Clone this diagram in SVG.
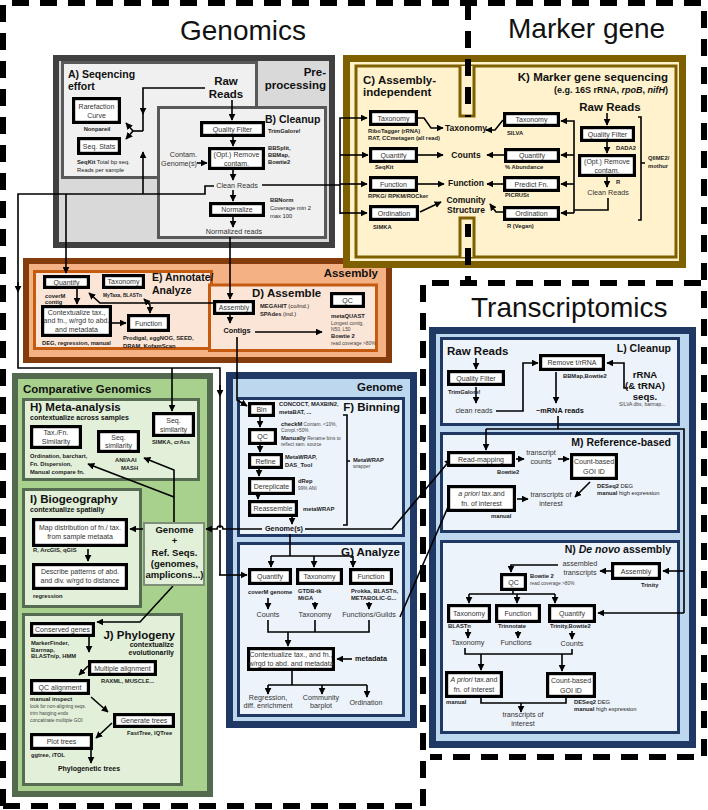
<svg xmlns="http://www.w3.org/2000/svg" width="708" height="810" viewBox="0 0 708 810">
<defs>
<marker id="ah" viewBox="0 0 10 10" refX="9" refY="5" markerWidth="7" markerHeight="7" markerUnits="userSpaceOnUse" orient="auto-start-reverse"><path d="M0,0 L10,5 L0,10 z" fill="#000"/></marker>
<style>
text{font-family:"Liberation Sans",Arial,sans-serif}
.ti{font-size:28px;fill:#111}
.hd{font-size:11.5px;font-weight:bold;fill:#111}
.hs{font-size:10.5px;font-weight:bold;fill:#111}
.bt{font-size:7px;fill:#333;text-anchor:middle}
.tl{font-size:5.8px;font-weight:bold;fill:#222}
.tn{font-size:4.8px;fill:#444}
.lb{font-size:7.2px;fill:#333;text-anchor:middle}
.lbb{font-size:7.3px;font-weight:bold;fill:#111;text-anchor:middle}
.lbc{font-size:8.5px;font-weight:bold;fill:#111;text-anchor:middle}
.sub{font-size:7px;font-weight:bold;fill:#111}
.nd{fill:#fff;stroke:#000;stroke-width:3.2}
.dash{fill:none;stroke:#000;stroke-width:6;stroke-dasharray:17 11}
.cn path{fill:none;stroke:#000;stroke-width:1.6}
.ar{marker-end:url(#ah)}
.pg{fill:#f0f0f0;stroke:#595959;stroke-width:3}
.po{fill:#fbe5d6;stroke:#c55a11;stroke-width:3}
.py{fill:#fff2cc;stroke:#7f6000;stroke-width:3}
.pb{fill:#edf3fb;stroke:#1f3864;stroke-width:3}
.pn{fill:#e2f0d9;stroke:#556b52;stroke-width:3}
</style>
</defs>
<rect width="708" height="810" fill="#fff"/>

<!-- titles -->
<text class="ti" x="180" y="40">Genomics</text>
<text class="ti" x="508" y="38">Marker gene</text>
<text class="ti" x="471" y="317">Transcriptomics</text>

<!-- panels -->
<g id="preprocessing">
<rect x="56" y="58" width="276" height="187" fill="#d9d9d9" stroke="#404040" stroke-width="6"/>
<text class="hd" x="326" y="76" text-anchor="end">Pre-</text>
<text class="hd" x="326" y="89" text-anchor="end">processing</text>
<rect class="pg" x="62.5" y="62.5" width="194" height="115"/>
<rect class="pg" x="158.5" y="107.5" width="167" height="130"/>
</g>
<g id="assembly-panel">
<rect x="26" y="261" width="363" height="99" fill="#f4b183" stroke="#843c0c" stroke-width="6"/>
<rect class="po" x="34.5" y="271.5" width="177" height="77"/>
<rect class="po" x="209.5" y="285" width="167" height="65.5"/>
<text class="hd" x="378" y="277" text-anchor="end">Assembly</text>
</g>
<g id="marker-panel">
<rect x="346.5" y="58.5" width="336" height="206" fill="#fff2cc" stroke="#7f6000" stroke-width="7"/>
<rect class="py" x="356" y="66" width="320" height="191"/>
<path d="M460,66 V116 H474 V66" fill="#fff2cc" stroke="#7f6000" stroke-width="3"/>
<path d="M460,257 V218 H474 V257" fill="#fff2cc" stroke="#7f6000" stroke-width="3"/>
</g>
<g id="genome-panel">
<rect x="229.5" y="375.5" width="184" height="349" fill="#bdd7ee" stroke="#1f3864" stroke-width="7"/>
<rect class="pb" x="238.5" y="398.5" width="165" height="137"/>
<rect class="pb" x="238.5" y="543.5" width="165" height="172"/>
<text class="hd" x="403" y="391" text-anchor="end">Genome</text>
</g>
<g id="transcriptomics-panel">
<rect x="432.5" y="330.5" width="260" height="414" fill="#bdd7ee" stroke="#1f3864" stroke-width="7"/>
<rect class="pb" x="441.5" y="338.5" width="237" height="86"/>
<rect class="pb" x="441.5" y="433.5" width="237" height="98"/>
<rect class="pb" x="441.5" y="541.5" width="237" height="191"/>
</g>
<g id="comparative-panel">
<rect x="15" y="376" width="195" height="418" fill="#a9d18e" stroke="#536a4f" stroke-width="6"/>
<text class="hd" x="23" y="393">Comparative Genomics</text>
<rect class="pn" x="23.5" y="399.5" width="175" height="80"/>
<rect class="pn" x="23.5" y="489.5" width="117" height="117"/>
<rect class="pn" x="23.5" y="614.5" width="158" height="170"/>
</g>

<!-- dashed region borders -->
<g id="regions">
<path class="dash" d="M3,806 V3 H704 V757 H430"/>
<path class="dash" d="M3,806 H423 V283 H704"/>
<path class="dash" d="M468,3 V117"/>
<path class="dash" d="M468,224 V283" stroke-dashoffset="4"/>
</g>

<!-- connectors -->
<g id="connectors" class="cn">
<path class="ar" d="M205,88 H143 V114"/>
<path d="M143,113 V131"/>
<path class="ar" d="M143,194 V152"/>
<path d="M143,131 H133"/>
<path class="ar" d="M133,131 L126,123"/>
<path class="ar" d="M133,131 L126,139"/>
<path class="ar" d="M232,100 V120"/>
<path class="ar" d="M233,137 V146"/>
<path class="ar" d="M197,163 H207"/>
<path class="ar" d="M233,170 V180"/>
<path class="ar" d="M233,190 V201"/>
<path class="ar" d="M233,217 V227"/>
<path class="ar" d="M230,237 V299"/>
<path d="M262,185 H340"/>
<path class="ar" d="M340,214 V118 H367"/>
<path class="ar" d="M340,155 H368"/>
<path class="ar" d="M340,184 H367"/>
<path class="ar" d="M340,213 H367"/>
<path d="M214,186 H205 V194 H18 V368 H220 V528"/>
<path d="M220,530 V575"/>
<path class="ar" d="M219,575 H247"/>
<path class="ar" d="M18,282 V292"/>
<path class="ar" d="M220,385 V396"/>
<path class="ar" d="M66,194 V273"/>
<path class="ar" d="M172,368 V411"/>
<!-- assembly -->
<path class="ar" d="M213,303 H100 L89,293"/>
<path class="ar" d="M230,315 V323"/>
<path class="ar" d="M255,332 H322"/>
<path class="ar" d="M237,337 V400 L247,406"/>
<path class="ar" d="M77,289 V304"/>
<path class="ar" d="M112,323 H126"/>
<path class="ar" d="M150,313 V305 L144,299" marker-start="url(#ah)"/>
<!-- marker gene -->
<path class="ar" d="M418,118 H424 L431,128 H443"/>
<path class="ar" d="M418,155 H443"/>
<path class="ar" d="M418,184 H444"/>
<path class="ar" d="M420,212 L441,202"/>
<path class="ar" d="M607,113 V125"/>
<path class="ar" d="M607,142 V153"/>
<path class="ar" d="M607,177 V187"/>
<path d="M608,198 V210 H574"/>
<path class="ar" d="M574,213 V121 H561"/>
<path class="ar" d="M574,155 H561"/>
<path class="ar" d="M574,184 H561"/>
<path class="ar" d="M574,213 H561"/>
<path class="ar" d="M503,120 L495,130 H486"/>
<path class="ar" d="M504,155 H487"/>
<path class="ar" d="M503,184 H487"/>
<path class="ar" d="M503,212 H496 L490,204"/>
<path d="M638,117 H641 V220 H638 M641,163 H645"/>
<!-- binning -->
<path class="ar" d="M260,417 V427"/>
<path class="ar" d="M260,445 V452"/>
<path class="ar" d="M259,469 V476"/>
<path class="ar" d="M258,495 V499"/>
<path class="ar" d="M292,517 V524"/>
<path d="M343,415 H347 V525 H343 M347,461 H350"/>
<path class="ar" d="M262,529 H223 A3,3 0 0 0 217,529 H206"/>
<path class="ar" d="M305,529 H392 L451,459"/>
<path d="M290,534 V556 M271,556 H353"/>
<path class="ar" d="M271,556 V567"/>
<path class="ar" d="M314,556 V567"/>
<path class="ar" d="M353,556 V567"/>
<path class="ar" d="M268,598 V609"/>
<path class="ar" d="M315,602 V609"/>
<path class="ar" d="M369,602 V609"/>
<path d="M268,620 V632 H369 V620 M315,620 V632"/>
<path class="ar" d="M288,632 V646"/>
<path class="ar" d="M352,659 H337"/>
<path d="M292,671 V685 M268,685 H367"/>
<path class="ar" d="M268,685 V694"/>
<path class="ar" d="M322,685 V694"/>
<path class="ar" d="M367,685 V697"/>
<path class="ar" d="M400,617 L452,498"/>
<!-- comparative -->
<path class="ar" d="M143,529 H130"/>
<path class="ar" d="M174,522 V470 L144,458"/>
<path class="ar" d="M174,497 L88,464"/>
<path class="ar" d="M173,586 L140,622 H97"/>
<path class="ar" d="M88,549 V561"/>
<path class="ar" d="M89,637 V652"/>
<path class="ar" d="M88,666 L79,675"/>
<path class="ar" d="M91,697 L108,712"/>
<path class="ar" d="M112,723 L96,738"/>
<path class="ar" d="M91,750 V763"/>
<!-- transcriptomics -->
<path class="ar" d="M476,358 V369"/>
<path class="ar" d="M476,387 V403"/>
<path class="ar" d="M496,411 H523 V363 H538"/>
<path class="ar" d="M628,388 H624 V363 H607"/>
<path class="ar" d="M556,372 V403"/>
<path d="M558,416 V429 M486,429 H684 V613"/>
<path class="ar" d="M486,429 V450"/>
<path class="ar" d="M684,571 H663"/>
<path class="ar" d="M684,613 H598"/>
<path class="ar" d="M516,459 H524"/>
<path class="ar" d="M558,459 H569"/>
<path class="ar" d="M590,482 L575,497"/>
<path class="ar" d="M517,499 H528"/>
<path class="ar" d="M611,571 H600"/>
<path class="ar" d="M558,565 H511 V572"/>
<path d="M513,591 V594 M469,594 H555"/>
<path class="ar" d="M469,594 V603"/>
<path class="ar" d="M517,594 V603"/>
<path class="ar" d="M555,594 V603"/>
<path class="ar" d="M468,629 V638"/>
<path class="ar" d="M518,631 V638"/>
<path class="ar" d="M572,631 V639"/>
<path d="M465,648 V654 H572 V649"/>
<path class="ar" d="M481,654 V670"/>
<path class="ar" d="M562,654 V671"/>
<path d="M481,698 V703 H566 V698"/>
<path class="ar" d="M521,703 V712"/>
</g>

<!-- A) Sequencing effort -->
<g id="A-seq-effort">
<text class="hs" x="68" y="78">A) Seqencing</text>
<text class="hs" x="68" y="90">effort</text>
<text class="hd" x="226" y="85" text-anchor="middle">Raw</text>
<text class="hd" x="226" y="98" text-anchor="middle">Reads</text>
</g>
<g id="rarefaction"><rect class="nd" x="73.6" y="98.6" width="45.8" height="23.8"/><text class="bt" x="96.5" y="108.5">Rarefaction</text><text class="bt" x="96.5" y="117.5">Curve</text><text class="tl" x="97" y="131" style="text-anchor:middle">Nonpareil</text></g>
<g id="seqstats"><rect class="nd" x="78.6" y="138.6" width="40.8" height="14.8"/><text class="bt" x="99" y="148.5">Seq. Stats</text><text class="tl" x="77" y="164">SeqKit<tspan font-weight="normal"> Total bp seq.</tspan></text><text class="tl" x="77" y="172" style="font-weight:normal">Reads per sample</text></g>

<!-- B) Cleanup -->
<g id="B-cleanup">
<text class="hs" x="265" y="123">B) Cleanup</text>
<text class="lb" x="197" y="157" style="text-anchor:end">Contam.</text>
<text class="lb" x="197" y="166" style="text-anchor:end">Genome(s)</text>
<text class="lb" x="237" y="188">Clean Reads</text>
<text class="lb" x="234" y="234">Normalized reads</text>
</g>
<g id="b-qf"><rect class="nd" x="201.6" y="122.6" width="61.8" height="12.8"/><text class="bt" x="232.5" y="131.5">Quality Filter</text><text class="tl" x="268" y="133">TrimGalore!</text></g>
<g id="b-remove"><rect class="nd" x="209.6" y="148.6" width="53.8" height="19.8"/><text class="bt" x="236.5" y="157">(Opt.) Remove</text><text class="bt" x="236.5" y="165.5">contam.</text><text class="tl" x="268" y="150">BBSplit,</text><text class="tl" x="268" y="157">BBMap,</text><text class="tl" x="268" y="164">Bowtie2</text></g>
<g id="b-normalize"><rect class="nd" x="210.6" y="203.6" width="52.8" height="11.8"/><text class="bt" x="237" y="212">Normalize</text><text class="tl" x="270" y="202">BBNorm</text><text class="tl" x="270" y="210" style="font-weight:normal">Coverage min 2</text><text class="tl" x="270" y="218" style="font-weight:normal">max 100</text></g>

<!-- C) Assembly-independent -->
<g id="C-assembly-independent">
<text class="hd" x="363" y="84">C) Assembly-</text>
<text class="hd" x="363" y="96">independent</text>
<text class="lbc" x="466" y="131">Taxonomy</text>
<text class="lbc" x="466" y="158">Counts</text>
<text class="lbc" x="466" y="186">Function</text>
<text class="lbc" x="466" y="203">Comunity</text>
<text class="lbc" x="466" y="213">Structure</text>
</g>
<g id="c-tax"><rect class="nd" x="370.6" y="111.6" width="45.8" height="12.8"/><text class="bt" x="393.5" y="120.5">Taxonomy</text><text class="tl" x="368" y="133">RiboTagger (rRNA)</text><text class="tl" x="368" y="140">RAT, CCmetagen (all read)</text></g>
<g id="c-quant"><rect class="nd" x="370.6" y="148.6" width="45.8" height="12.8"/><text class="bt" x="393.5" y="157.5">Quantify</text><text class="tl" x="375" y="169">SeqKit</text></g>
<g id="c-func"><rect class="nd" x="370.6" y="177.6" width="45.8" height="12.8"/><text class="bt" x="393.5" y="186.5">Function</text><text class="tl" x="368" y="198">RPKG/ RPKM/ROCker</text></g>
<g id="c-ord"><rect class="nd" x="370.6" y="206.6" width="46.8" height="12.8"/><text class="bt" x="394" y="215.5">Ordination</text><text class="tl" x="373" y="229">SIMKA</text></g>

<!-- K) Marker gene -->
<g id="K-marker">
<text class="hd" x="668" y="81" text-anchor="end">K) Marker gene sequencing</text>
<text class="sub" x="668" y="93" text-anchor="end" style="font-size:9px">(e.g. 16S rRNA, <tspan font-style="italic">rpoB</tspan>, <tspan font-style="italic">nifH</tspan>)</text>
<text class="hd" x="610" y="111" text-anchor="middle">Raw Reads</text>
<text class="lb" x="608" y="195">Clean Reads</text>
<text class="tl" x="648" y="160">QIIME2/</text>
<text class="tl" x="648" y="168">mothur</text>
</g>
<g id="k-qf"><rect class="nd" x="581.6" y="127.6" width="51.8" height="12.8"/><text class="bt" x="607.5" y="136.5">Quality Filter</text><text class="tl" x="616" y="150">DADA2</text></g>
<g id="k-remove"><rect class="nd" x="579.6" y="155.6" width="54.8" height="19.8"/><text class="bt" x="607" y="164">(Opt.) Remove</text><text class="bt" x="607" y="172.5">contam.</text><text class="tl" x="616" y="184">R</text></g>
<g id="k-tax"><rect class="nd" x="504.6" y="113.6" width="53.8" height="11.8"/><text class="bt" x="531.5" y="122">Taxonomy</text><text class="tl" x="507" y="135">SILVA</text></g>
<g id="k-quant"><rect class="nd" x="505.6" y="149.6" width="52.8" height="11.8"/><text class="bt" x="532" y="158">Quantify</text><text class="tl" x="505" y="169">% Abundance</text></g>
<g id="k-predict"><rect class="nd" x="504.6" y="177.6" width="53.8" height="12.8"/><text class="bt" x="531.5" y="186.5">Predict Fn.</text><text class="tl" x="505" y="197">PICRUSt</text></g>
<g id="k-ord"><rect class="nd" x="504.6" y="207.6" width="53.8" height="11.8"/><text class="bt" x="531.5" y="216">Ordination</text><text class="tl" x="507" y="228">R (Vegan)</text></g>

<!-- E) Annotate -->
<g id="E-annotate">
<text class="hs" x="152" y="281">E) Annotate/</text>
<text class="hs" x="152" y="294">Analyze</text>
</g>
<g id="e-quant"><rect class="nd" x="44.6" y="276.6" width="43.8" height="10.8"/><text class="bt" x="66.5" y="284.5">Quantify</text><text class="tl" x="45" y="298">coverM</text><text class="tl" x="45" y="304">contig</text></g>
<g id="e-tax"><rect class="nd" x="103.6" y="275.6" width="39.8" height="11.8"/><text class="bt" x="123.5" y="284">Taxonomy</text><text class="tl" x="103" y="297" style="font-size:4.8px">MyTaxa, BLASTn</text></g>
<g id="e-context"><rect class="nd" x="42.6" y="306.6" width="67.8" height="28.8"/><text class="bt" x="76.5" y="314.5">Contextualize tax.,</text><text class="bt" x="76.5" y="323">and fn., w/rgd to abd.</text><text class="bt" x="76.5" y="331.5">and metadata</text><text class="tl" x="42" y="345">DEG, regression, manual</text></g>
<g id="e-func"><rect class="nd" x="128.6" y="315.6" width="39.8" height="14.8"/><text class="bt" x="148.5" y="325.5">Function</text><text class="tl" x="123" y="340">Prodigal, eggNOG, SEED,</text><text class="tl" x="123" y="348">DRAM, KofamScan</text></g>

<!-- D) Assemble -->
<g id="D-assemble">
<text class="hd" x="252" y="297">D) Assemble</text>
<text class="lbb" x="237" y="333">Contigs</text>
</g>
<g id="d-assembly"><rect class="nd" x="214.6" y="301.6" width="38.8" height="11.8"/><text class="bt" x="234" y="310">Assembly</text><text class="tl" x="260" y="308">MEGAHIT<tspan font-weight="normal"> (co/ind.)</tspan></text><text class="tl" x="260" y="316">SPAdes<tspan font-weight="normal"> (ind.)</tspan></text></g>
<g id="d-qc"><rect class="nd" x="331.6" y="293.6" width="31.8" height="12.8"/><text class="bt" x="347.5" y="302.5">QC</text><text class="tl" x="331" y="318">metaQUAST</text><text class="tn" x="331" y="325">Longest contig,</text><text class="tn" x="331" y="331">N50, L50</text><text class="tl" x="331" y="338">Bowtie 2</text><text class="tn" x="331" y="345">read coverage &gt;80%</text></g>

<!-- F) Binning -->
<g id="F-binning">
<text class="hd" x="400" y="411" text-anchor="end">F) Binning</text>
<text class="lbb" x="284" y="531">Genome(s)</text>
<text class="tl" x="353" y="462">MetaWRAP</text>
<text class="tn" x="353" y="468">wrapper</text>
</g>
<g id="f-bin"><rect class="nd" x="249.6" y="403.6" width="23.8" height="11.8"/><text class="bt" x="261.5" y="412">Bin</text><text class="tl" x="279" y="406">CONCOCT, MAXBIN2,</text><text class="tl" x="279" y="414">metaBAT, ...</text></g>
<g id="f-qc"><rect class="nd" x="249.6" y="429.6" width="25.8" height="13.8"/><text class="bt" x="262.5" y="439">QC</text><text class="tl" x="281" y="426">checkM<tspan class="tn" font-weight="normal"> Contam. &lt;10%,</tspan></text><text class="tn" x="281" y="432">Compl.&gt;50%</text><text class="tl" x="281" y="440">Manually<tspan class="tn" font-weight="normal"> Rename bins to</tspan></text><text class="tn" x="281" y="446">reflect sam. source</text></g>
<g id="f-refine"><rect class="nd" x="249.6" y="454.6" width="31.8" height="12.8"/><text class="bt" x="265.5" y="463.5">Refine</text><text class="tl" x="285" y="459">MetaWRAP,</text><text class="tl" x="285" y="467">DAS_Tool</text></g>
<g id="f-derep"><rect class="nd" x="249.6" y="478.6" width="43.8" height="14.8"/><text class="bt" x="271.5" y="488.5">Dereplicate</text><text class="tl" x="298" y="483">dRep</text><text class="tn" x="298" y="490">99% ANI</text></g>
<g id="f-reassemble"><rect class="nd" x="249.6" y="501.6" width="46.8" height="13.8"/><text class="bt" x="273" y="511">Reassemble</text><text class="tl" x="303" y="511">metaWRAP</text></g>

<!-- G) Analyze -->
<g id="G-analyze">
<text class="hd" x="400" y="556" text-anchor="end">G) Analyze</text>
<text class="lb" x="268" y="617">Counts</text>
<text class="lb" x="315" y="617">Taxonomy</text>
<text class="lb" x="369" y="617">Functions/Guilds</text>
<text class="lbb" x="355" y="661" style="text-anchor:start">metadata</text>
<text class="lb" x="268" y="700">Regression,</text>
<text class="lb" x="268" y="708">diff. enrichment</text>
<text class="lb" x="321" y="700">Community</text>
<text class="lb" x="321" y="708">barplot</text>
<text class="lb" x="366" y="705">Ordination</text>
</g>
<g id="g-quant"><rect class="nd" x="249.6" y="569.6" width="40.8" height="13.8"/><text class="bt" x="270" y="579">Quantify</text><text class="tl" x="248" y="594">coverM genome</text></g>
<g id="g-tax"><rect class="nd" x="297.6" y="569.6" width="43.8" height="13.8"/><text class="bt" x="319.5" y="579">Taxonomy</text><text class="tl" x="298" y="593">GTDB-tk</text><text class="tl" x="298" y="600">MiGA</text></g>
<g id="g-func"><rect class="nd" x="350.6" y="569.6" width="40.8" height="13.8"/><text class="bt" x="371" y="579">Function</text><text class="tl" x="351" y="593">Prokka, BLASTn,</text><text class="tl" x="351" y="600">METABOLIC-G...</text></g>
<g id="g-context"><rect class="nd" x="248.6" y="648.6" width="84.8" height="20.8"/><text class="bt" x="291" y="657">Contextualize tax., and fn.,</text><text class="bt" x="291" y="666">w/rgd to abd. and metadata</text></g>

<!-- H) Meta-analysis -->
<g id="H-meta">
<text class="hd" x="30" y="411">H) Meta-analysis</text>
<text class="sub" x="30" y="420">contextualize across samples</text>
</g>
<g id="h-taxfn"><rect class="nd" x="31.6" y="426.6" width="48.8" height="20.8"/><text class="bt" x="56" y="435">Tax./Fn.</text><text class="bt" x="56" y="444">Similarity</text><text class="tl" x="30" y="458">Ordination, barchart,</text><text class="tl" x="30" y="466">Fn. Dispersion,</text><text class="tl" x="30" y="474">Manual compare fn.</text></g>
<g id="h-seqani"><rect class="nd" x="98.6" y="431.6" width="39.8" height="19.8"/><text class="bt" x="118.5" y="439.5">Seq.</text><text class="bt" x="118.5" y="448">similarity</text><text class="tl" x="115" y="462">ANI/AAI</text><text class="tl" x="121" y="470">MASH</text></g>
<g id="h-seqsimka"><rect class="nd" x="153.6" y="413.6" width="39.8" height="21.8"/><text class="bt" x="173.5" y="422.5">Seq.</text><text class="bt" x="173.5" y="431.5">similarity</text><text class="tl" x="152" y="444">SIMKA, crAss</text></g>

<!-- I) Biogeography -->
<g id="I-biogeo">
<text class="hd" x="30" y="503">I) Biogeography</text>
<text class="sub" x="30" y="512">contextualize spatially</text>
</g>
<g id="i-map"><rect class="nd" x="33.6" y="519.6" width="92.8" height="25.8"/><text class="bt" x="80" y="529.5">Map distribution of fn./ tax.</text><text class="bt" x="80" y="538.5">from sample metaata</text><text class="tl" x="33" y="552">R, ArcGIS, qGIS</text></g>
<g id="i-describe"><rect class="nd" x="33.6" y="564.6" width="92.8" height="23.8"/><text class="bt" x="80" y="574">Describe patterns of abd.</text><text class="bt" x="80" y="583">and div. w/rgd to distance</text><text class="tl" x="33" y="598">regression</text></g>
<g id="genome-ref"><rect x="144" y="523" width="60" height="62" fill="#e2f0d9" stroke="#7f8f7a" stroke-width="2"/>
<text class="hs" x="174.5" y="533" text-anchor="middle" style="font-size:9.5px">Genome</text>
<text class="hs" x="174.5" y="544" text-anchor="middle" style="font-size:9.5px">+</text>
<text class="hs" x="174.5" y="556" text-anchor="middle" style="font-size:9.5px">Ref. Seqs.</text>
<text class="hs" x="174.5" y="567" text-anchor="middle" style="font-size:9.5px">(genomes,</text>
<text class="hs" x="174.5" y="578" text-anchor="middle" style="font-size:9.5px">amplicons...)</text></g>

<!-- J) Phylogeny -->
<g id="J-phylo">
<text class="hd" x="175" y="639" text-anchor="end">J) Phylogeny</text>
<text class="sub" x="174" y="647" text-anchor="end">contextualize</text>
<text class="sub" x="174" y="655" text-anchor="end">evolutionarily</text>
<text class="lbb" x="89" y="771" style="font-size:7px">Phylogenetic trees</text>
</g>
<g id="j-conserved"><rect class="nd" x="31.6" y="623.6" width="61.8" height="11.8"/><text class="bt" x="62.5" y="632">Conserved genes</text><text class="tl" x="31" y="645">MarkerFinder,</text><text class="tl" x="31" y="651.5">Barrnap,</text><text class="tl" x="31" y="658">BLASTn/p, HMM</text></g>
<g id="j-multiple"><rect class="nd" x="89.6" y="661.6" width="65.8" height="12.8"/><text class="bt" x="122.5" y="670.5">Multiple alignment</text><text class="tl" x="101" y="683">RAXML, MUSCLE...</text></g>
<g id="j-qc"><rect class="nd" x="31.6" y="680.6" width="56.8" height="12.8"/><text class="bt" x="60" y="689.5">QC alignment</text><text class="tl" x="30" y="701">manual inspect</text><text class="tn" x="30" y="708">look for non-aligning seqs.</text><text class="tn" x="30" y="715">trim hanging ends</text><text class="tn" x="30" y="722">concatinate multiple GOI</text></g>
<g id="j-generate"><rect class="nd" x="114.6" y="714.6" width="58.8" height="11.8"/><text class="bt" x="144" y="723">Generate trees</text><text class="tl" x="127" y="735">FastTree, IQTree</text></g>
<g id="j-plot"><rect class="nd" x="31.6" y="734.6" width="59.8" height="13.8"/><text class="bt" x="61.5" y="744">Plot trees</text><text class="tl" x="31" y="757">ggtree, iTOL</text></g>

<!-- L) Cleanup -->
<g id="L-cleanup">
<text class="hd" x="447" y="355">Raw Reads</text>
<text class="hs" x="671" y="352" text-anchor="end">L) Cleanup</text>
<text class="lb" x="474" y="413">clean reads</text>
<text class="hs" x="645" y="378" text-anchor="middle" style="font-size:9.6px">rRNA</text>
<text class="hs" x="645" y="389" text-anchor="middle" style="font-size:9.6px">(&amp; tRNA)</text>
<text class="hs" x="645" y="400" text-anchor="middle" style="font-size:9.6px">seqs.</text>
<text class="tn" x="619" y="405.5" style="font-size:5px">SILVA dbs, barmap...</text>
<text class="lbb" x="560" y="413">~mRNA reads</text>
</g>
<g id="l-qf"><rect class="nd" x="448.6" y="371.6" width="54.8" height="12.8"/><text class="bt" x="476" y="380.5">Quality Filter</text><text class="tl" x="448" y="394">TrimGalore!</text></g>
<g id="l-remove"><rect class="nd" x="540.6" y="355.6" width="62.8" height="13.8"/><text class="bt" x="572" y="365">Remove t/rRNA</text><text class="tl" x="563" y="378">BBMap,Bowtie2</text></g>

<!-- M) Reference-based -->
<g id="M-reference">
<text class="hs" x="671" y="446" text-anchor="end">M) Reference-based</text>
<text class="lb" x="541" y="455">transcript</text>
<text class="lb" x="541" y="464">counts</text>
<text class="lb" x="551" y="497">transcripts of</text>
<text class="lb" x="551" y="506">interest</text>
</g>
<g id="m-readmap"><rect class="nd" x="448.6" y="452.6" width="64.8" height="12.8"/><text class="bt" x="481" y="461.5">Read-mapping</text><text class="tl" x="497" y="474">Bowtie2</text></g>
<g id="m-countbased"><rect class="nd" x="571.6" y="454.6" width="44.8" height="23.8"/><text class="bt" x="594" y="464">Count-based</text><text class="bt" x="594" y="474">GOI ID</text><text class="tl" x="597" y="488">DESeq2<tspan font-weight="normal"> DEG</tspan></text><text class="tl" x="597" y="495">manual<tspan font-weight="normal"> high expression</tspan></text></g>
<g id="m-apriori"><rect class="nd" x="448.6" y="486.6" width="65.8" height="23.8"/><text class="bt" x="481.5" y="496"><tspan font-style="italic">a priori</tspan> tax.and</text><text class="bt" x="481.5" y="505.5">fn. of interest</text><text class="tl" x="491" y="518">manual</text></g>

<!-- N) De novo assembly -->
<g id="N-denovo">
<text class="hs" x="671" y="553" text-anchor="end">N) <tspan font-style="italic">De novo</tspan> assembly</text>
<text class="lb" x="580" y="566">assembled</text>
<text class="lb" x="580" y="575">transcripts</text>
<text class="lb" x="468" y="645">Taxonomy</text>
<text class="lb" x="516" y="645">Functions</text>
<text class="lb" x="572" y="646">Counts</text>
<text class="lb" x="523" y="717">transcripts of</text>
<text class="lb" x="523" y="726">interest</text>
</g>
<g id="n-assembly"><rect class="nd" x="612.6" y="563.6" width="46.8" height="14.8"/><text class="bt" x="636" y="573.5">Assembly</text><text class="tl" x="641" y="587">Trinity</text></g>
<g id="n-qc"><rect class="nd" x="501.6" y="574.6" width="23.8" height="14.8"/><text class="bt" x="513.5" y="584.5">QC</text><text class="tl" x="530" y="578">Bowtie 2</text><text class="tn" x="530" y="585">read coverage &gt;80%</text></g>
<g id="n-tax"><rect class="nd" x="448.6" y="605.6" width="40.8" height="15.8"/><text class="bt" x="469" y="616">Taxonomy</text><text class="tl" x="448" y="628">BLASTn</text></g>
<g id="n-func"><rect class="nd" x="496.6" y="605.6" width="42.8" height="15.8"/><text class="bt" x="518" y="616">Function</text><text class="tl" x="498" y="628">Trinnotate</text></g>
<g id="n-quant"><rect class="nd" x="549.6" y="605.6" width="44.8" height="15.8"/><text class="bt" x="572" y="616">Quantify</text><text class="tl" x="550" y="628">Trinity,Bowtie2</text></g>
<g id="n-apriori"><rect class="nd" x="446.6" y="672.6" width="54.8" height="23.8"/><text class="bt" x="474" y="682"><tspan font-style="italic">A priori</tspan> tax.and</text><text class="bt" x="474" y="691.5">fn. of interest</text><text class="tl" x="446" y="704">manual</text></g>
<g id="n-countbased"><rect class="nd" x="547.6" y="673.6" width="46.8" height="22.8"/><text class="bt" x="571" y="683">Count-based</text><text class="bt" x="571" y="692.5">GOI ID</text><text class="tl" x="574" y="704">DESeq2<tspan font-weight="normal"> DEG</tspan></text><text class="tl" x="574" y="711">manual<tspan font-weight="normal"> high expression</tspan></text></g>
</svg>
